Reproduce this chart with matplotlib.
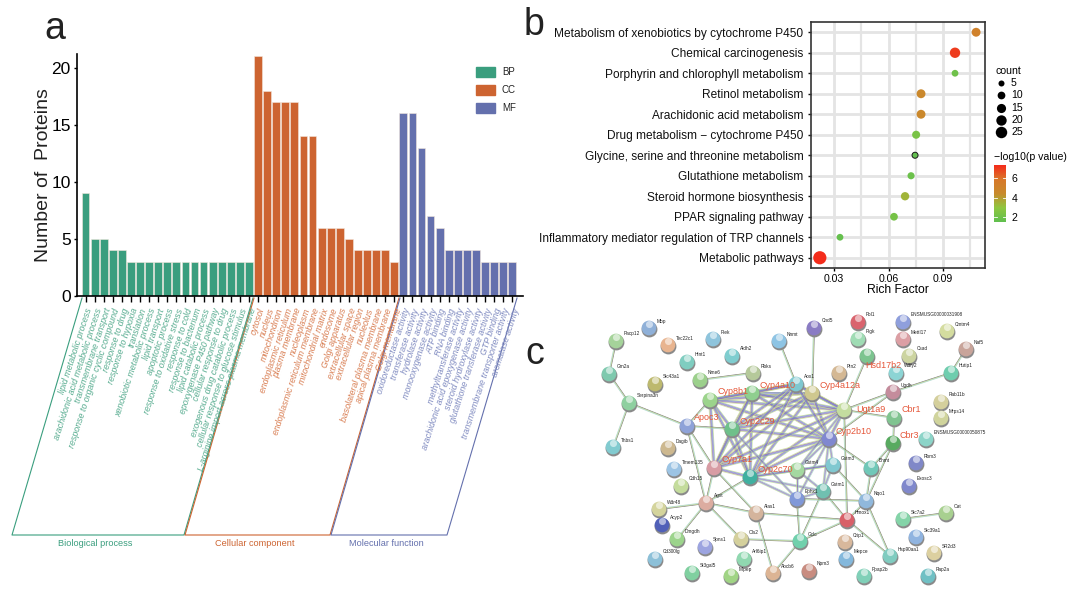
import itertools
import numpy as np
import matplotlib
matplotlib.use("Agg")
import matplotlib.pyplot as plt
from matplotlib.colors import LinearSegmentedColormap
from matplotlib.patches import Rectangle
from matplotlib.transforms import ScaledTranslation

# panel a
bp_terms = ["lipid metabolic process", "arachidonic acid metabolic process", "transmembrane transport",
            "response to organic cyclic compound", "response to drug", "response to hypoxia", "translation",
            "xenobiotic metabolic process", "lipid transport", "apoptotic process",
            "response to oxidative stress", "response to cold", "response to bacterium",
            "lipid catabolic process", "epoxygenase P450 pathway", "cellular response to drug",
            "exogenous drug catabolic process", "cellular response to glucose stimulus",
            "L-arginine import across plasma membrane"]
bp_counts = [9, 5, 5, 4, 4, 3, 3, 3, 3, 3, 3, 3, 3, 3, 3, 3, 3, 3, 3]
cc_terms = ["cytosol", "nucleus", "mitochondrion", "endoplasmic reticulum", "plasma membrane", "nucleoplasm",
            "endoplasmic reticulum membrane", "mitochondrial matrix", "endosome", "Golgi apparatus",
            "extracellular space", "extracellular region", "nucleolus", "basolateral plasma membrane",
            "apical plasma membrane", "Golgi membrane"]
cc_counts = [21, 18, 17, 17, 17, 14, 14, 6, 6, 6, 5, 4, 4, 4, 4, 3]
mf_terms = ["oxidoreductase activity", "transferase activity", "hydrolase activity", "monooxygenase activity",
            "ATP binding", "RNA binding", "methyltransferase activity", "arachidonic acid epoxygenase activity",
            "steroid hydroxylase activity", "glutathione transferase activity", "GTP binding",
            "transmembrane transporter activity", "aromatase activity"]
mf_counts = [16, 16, 13, 7, 6, 4, 4, 4, 4, 3, 3, 3, 3]

# panel b
pathways = ["Metabolism of xenobiotics by cytochrome P450", "Chemical carcinogenesis",
            "Porphyrin and chlorophyll metabolism", "Retinol metabolism", "Arachidonic acid metabolism",
            "Drug metabolism \u2212 cytochrome P450", "Glycine, serine and threonine metabolism",
            "Glutathione metabolism", "Steroid hormone biosynthesis", "PPAR signaling pathway",
            "Inflammatory mediator regulation of TRP channels", "Metabolic pathways"]
rich_factor = [0.1082, 0.0966, 0.0966, 0.0779, 0.0779, 0.0752, 0.0746, 0.0724, 0.0691, 0.0630, 0.0333, 0.0222]
path_count = [14, 20, 7, 14, 14, 11, 5, 8, 12, 10, 7, 34]
log_p = [5.2, 7.0, 2.0, 4.6, 4.6, 2.3, 1.6, 1.9, 3.4, 2.2, 1.7, 7.3]

# panel c, network
node_names = ["Mbp", "Pacp12", "Tec22c1", "Plek", "Hint1", "Aldh2", "Nme6", "Rbks", "Gm2a", "Slc43a1", "Nnmt", "Cnd5",
              "Serpina3n", "Thbs1", "Apoc3", "Cyp8b1", "Cyp4a10", "Aox1", "Cyp4a12a", "Cyp2c29", "Dagib",
              "Fbl1", "Pigk", "ENSMUSG00000031908", "Mettl17", "Cmtm4", "Naf5", "Csad", "Hsd17b2", "Wdfy2", "Ptn2",
              "Hutip1", "Ugdh", "Rab11b", "Mrps14", "Ugt1a9", "Cbr1", "Cbr3", "ENSMUSG00000050875", "Cyp2b10",
              "Cyp7a1", "Cyp2c70", "Tmem135", "Cdh15", "Agxt", "Alas1", "Wdr48", "Acyp2", "Dmgdh", "Spns1", "Ols2",
              "Gclc", "Cd300lg", "St3gal5", "Mipep", "Arl6ip1", "Abcb6", "Npm3", "Gstm4", "Ephx1", "Gstm1", "Gstm3",
              "Bhmt", "Nqo1", "Hmox1", "Rbm3", "Exosc3", "Slc7a2", "Oat", "Slc39a1", "SR2d3", "Hsp90aa1", "Crip1",
              "Mepce", "Ppap2b", "Rap2a"]
node_x = [649, 616, 668, 713, 687, 732, 700, 753, 609, 655, 779, 814,
          629, 613, 687, 710, 752, 796, 812, 732, 668,
          858, 858, 903, 903, 947, 966, 909, 867, 896, 839,
          951, 893, 941, 941, 844, 894, 893, 926, 829,
          714, 750, 674, 681, 706, 756, 659, 662, 677, 705, 741,
          800, 655, 692, 731, 744, 773, 809, 797, 797, 823, 833,
          871, 866, 847, 916, 909, 903, 946, 916, 934, 890, 845,
          846, 864, 928]
node_y = [328, 341, 345, 339, 362, 356, 380, 373, 374, 384, 341, 328,
          403, 447, 426, 400, 393, 384, 393, 429, 448,
          322, 339, 322, 339, 331, 349, 356, 356, 373, 373,
          373, 392, 402, 418, 410, 418, 443, 439, 439,
          468, 477, 469, 486, 503, 513, 509, 525, 539, 547, 539,
          541, 559, 573, 576, 559, 573, 571, 470, 499, 491, 465,
          468, 501, 520, 463, 486, 519, 513, 537, 553, 556, 542,
          559, 576, 576]
node_colors = ["#8fb0d8", "#a5d39a", "#e8b48f", "#8ec4dc", "#7fcdc0", "#7fcdcf", "#9cd08c", "#b5c99a", "#7fc9ae",
               "#bdb96e", "#8ec4e4", "#8a7cc4", "#8fd0a0", "#82cbd0", "#8ea2d8", "#9cd48c", "#8fcf8f", "#7fc8d0",
               "#cfc88f", "#6fc08a", "#cdb88f", "#d9646e", "#9fdcb4", "#8f9fdc", "#dc9fa4", "#d4dc9f", "#c8a49a",
               "#ccd4a0", "#7cc48f", "#8cd4d4", "#d4b894", "#6fcdae", "#c48c9c", "#d4cf9c", "#d0d49c", "#c4dc9f",
               "#80c490", "#58aa60", "#8cd4c8", "#8088d0", "#d89ca4", "#40b0a0", "#9cc4e4", "#c4dc9c", "#dcaca0",
               "#d4b49c", "#d4d49c", "#5060b8", "#9cd48c", "#9ca4e0", "#d4d09c", "#70d0ac", "#8cc0d8", "#80d0a0",
               "#a0d484", "#90d8b0", "#dcb494", "#c88c80", "#a4d8a0", "#8098d8", "#70c0b0", "#80c8d0", "#70c8b8",
               "#90b8dc", "#d86068", "#8088c8", "#8088cc", "#84d4a8", "#a8d090", "#90b4e0", "#dcd0a0", "#80ccc0",
               "#d8b89c", "#84b8dc", "#80d0b8", "#70c0c4"]
red_labels = ["Apoc3", "Cyp8b1", "Cyp4a10", "Cyp4a12a", "Cyp2c29", "Hsd17b2", "Ugt1a9", "Cbr1", "Cbr3", "Cyp2b10",
              "Cyp7a1", "Cyp2c70"]
dense_group = ["Cyp8b1", "Cyp4a10", "Cyp4a12a", "Cyp2c29", "Ugt1a9", "Cyp2b10", "Cyp7a1", "Cyp2c70", "Aox1"]
gst_edges = [("Gstm4", "Cyp2b10"), ("Gstm4", "Cyp2c70"), ("Gstm4", "Ugt1a9"), ("Gstm3", "Cyp2b10"),
             ("Gstm3", "Cyp2c70"), ("Gstm1", "Cyp2b10"), ("Gstm1", "Cyp2c70"), ("Ephx1", "Cyp2c70"),
             ("Ephx1", "Cyp2b10"), ("Ephx1", "Gstm1"), ("Ephx1", "Gstm4"), ("Gstm1", "Gstm4"),
             ("Gstm1", "Gstm3"), ("Gstm3", "Gstm4"), ("Ephx1", "Cyp2c29")]
thin_edges = [("Pacp12", "Gm2a"), ("Gm2a", "Serpina3n"), ("Serpina3n", "Thbs1"), ("Serpina3n", "Apoc3"),
              ("Nme6", "Rbks"), ("Nnmt", "Aox1"), ("Cnd5", "Cyp4a12a"), ("Hsd17b2", "Ugt1a9"), ("Ugt1a9", "Ugdh"),
              ("Ugdh", "Hutip1"), ("Hutip1", "Naf5"), ("Ugt1a9", "Cbr1"), ("Cbr1", "Cbr3"), ("Cbr3", "Nqo1"),
              ("Cbr3", "Bhmt"), ("Bhmt", "Nqo1"), ("Nqo1", "Hmox1"), ("Nqo1", "Hsp90aa1"), ("Hmox1", "Hsp90aa1"),
              ("Hmox1", "Gclc"), ("Gclc", "Ols2"), ("Gclc", "Abcb6"), ("Gclc", "Ephx1"), ("Gclc", "Gstm1"),
              ("Agxt", "Wdr48"), ("Agxt", "Dmgdh"), ("Agxt", "Ols2"), ("Agxt", "Alas1"), ("Agxt", "Cyp7a1"),
              ("Agxt", "Apoc3"), ("Agxt", "Cyp2c70"), ("Alas1", "Abcb6"), ("Alas1", "Hmox1"), ("Alas1", "Cyp7a1"),
              ("Slc7a2", "Oat"), ("Apoc3", "Cyp7a1"), ("Ugdh", "Cyp2b10"), ("Apoc3", "Cyp8b1"), ("Apoc3", "Cyp2c29"),
              ("Ugt1a9", "Hmox1"), ("Gstm1", "Hmox1"), ("Gstm3", "Nqo1"), ("Cyp2b10", "Bhmt"), ("Ephx1", "Nqo1")]

GREEN, ORANGE, BLUE = "#3a9e7e", "#cd6431", "#6470ad"
LABEL_GREEN, LABEL_ORANGE, LABEL_BLUE = "#55ab8e", "#d87c50", "#7f8ac0"
plt.rcParams["font.family"] = ["Liberation Sans", "DejaVu Sans"]

W, H = 1080, 596
fig = plt.figure(figsize=(W / 100, H / 100), dpi=100)


def axes_px(left, top, right, bottom):
    return fig.add_axes([left / W, 1 - bottom / H, (right - left) / W, (bottom - top) / H])


# whole figure in pixels, for the frames, panel letters and the network
bg = fig.add_axes([0, 0, 1, 1])
bg.set_xlim(0, W)
bg.set_ylim(H, 0)
bg.axis("off")

# ---- panel a
ax = axes_px(77, 54, 523, 296)
ax.patch.set_alpha(0)
terms = bp_terms + cc_terms + mf_terms
counts = bp_counts + cc_counts + mf_counts
colors = [GREEN] * len(bp_terms) + [ORANGE] * len(cc_terms) + [BLUE] * len(mf_terms)
label_colors = [LABEL_GREEN] * len(bp_terms) + [LABEL_ORANGE] * len(cc_terms) + [LABEL_BLUE] * len(mf_terms)
x = np.arange(len(terms))
ax.bar(x, counts, width=0.86, color=colors, edgecolor="#f2e6dc", linewidth=0.4)
ax.set_xlim(-0.94, 48.18)
ax.set_ylim(0, 21.2)
ax.set_yticks([0, 5, 10, 15, 20])
ax.tick_params(axis="y", labelsize=12.5, width=1, length=2.5, pad=2)
ax.set_xticks(x)
ax.set_xticklabels(terms, rotation=72, ha="right", va="top", rotation_mode="anchor", fontsize=6.4, style="italic")
shift = ScaledTranslation(-2 / 100, 0, fig.dpi_scale_trans)
for t, c in zip(ax.get_xticklabels(), label_colors):
    t.set_color(c)
    t.set_transform(t.get_transform() + shift)
ax.tick_params(axis="x", width=1, length=4, pad=4)
ax.spines["top"].set_visible(False)
ax.spines["right"].set_visible(False)
ax.spines["left"].set_linewidth(1.2)
ax.spines["bottom"].set_linewidth(1.2)
ax.set_ylabel("Number of  Proteins", fontsize=14, color="#222222")
ax.yaxis.set_label_coords(-0.055, 0.5)

for lab, c, yy in zip(["BP", "CC", "MF"], [GREEN, ORANGE, BLUE], [72, 90, 108]):
    bg.add_patch(Rectangle((476, yy - 5), 19, 10, color=c))
    bg.text(502, yy, lab, fontsize=7, va="center", color="#222222")

frames = [([82, 12, 184, 253], GREEN, "Biological process", 95),
          ([254, 185, 330, 399], ORANGE, "Cellular component", 255),
          ([400, 331, 447, 517], BLUE, "Molecular function", 386)]
for xs, c, name, xc in frames:
    bg.plot(xs, [298, 535, 535, 298], color=c, lw=0.8)
    bg.text(xc, 543, name, color=c, fontsize=6.6, ha="center", va="center")

# ---- panel b
ax2 = axes_px(811, 22, 985, 268)
ypos = np.arange(len(pathways))[::-1]
cmap = LinearSegmentedColormap.from_list("rich", ["#5fbf4f", "#8fc63f", "#c88a2c", "#d8782a", "#f52a1a"])
ax2.set_axisbelow(True)
ax2.grid(True, which="major", color="#e4e4e4", lw=2)
ax2.set_xticks([0.045, 0.075, 0.105], minor=True)
ax2.grid(True, which="minor", axis="x", color="#e4e4e4", lw=1.6)
ax2.tick_params(axis="x", which="minor", length=0)
sizes = [6.4 + 2.47 * c for c in path_count]
sc = ax2.scatter(rich_factor, ypos, s=sizes, c=log_p, cmap=cmap, vmin=1.5, vmax=7.35, zorder=3, linewidths=0)
ax2.scatter([rich_factor[6]], [ypos[6]], s=sizes[6], facecolors="none", edgecolors="#1a1a1a", linewidths=0.7, zorder=4)
ax2.set_xlim(0.01734, 0.1131)
ax2.set_ylim(-0.5, 11.5)
ax2.set_xticks([0.03, 0.06, 0.09])
ax2.set_xticklabels(["0.03", "0.06", "0.09"])
ax2.set_yticks(ypos)
ax2.set_yticklabels(pathways)
ax2.tick_params(axis="y", labelsize=8.6, length=2.5, width=1, pad=3, colors="#111111")
ax2.tick_params(axis="x", which="major", labelsize=7.6, length=2.5, width=1, pad=2)
for s in ax2.spines.values():
    s.set_linewidth(1.2)
    s.set_color("#333333")
ax2.set_xlabel("Rich Factor", fontsize=8.7, labelpad=0)

bg.text(995, 71, "count", fontsize=7.6, va="center")
for cnt, yy in zip([5, 10, 15, 20, 25], [83, 95, 108, 120, 132]):
    bg.scatter([1001], [yy], s=6.4 + 2.47 * cnt, color="black", linewidths=0)
    bg.text(1011, yy, str(cnt), fontsize=7.6, va="center")
bg.text(994, 157, "\u2212log10(p value)", fontsize=7.6, va="center")
cax = axes_px(994, 165, 1006, 222)
cb = fig.colorbar(sc, cax=cax)
cb.set_ticks([2, 4, 6])
cb.outline.set_visible(False)
cax.tick_params(labelsize=7.6, length=0, pad=4)
for v in [2, 4, 6]:
    cax.plot([0, 0.22], [v, v], color="white", lw=0.6, transform=cax.get_yaxis_transform())
    cax.plot([0.78, 1], [v, v], color="white", lw=0.6, transform=cax.get_yaxis_transform())

# ---- panel c
pos = {n: (px, py) for n, px, py in zip(node_names, node_x, node_y)}


def edge(a, b, cols, gap=0.8, lw=0.6):
    (x0, y0), (x1, y1) = pos[a], pos[b]
    d = np.hypot(x1 - x0, y1 - y0)
    nx, ny = -(y1 - y0) / d, (x1 - x0) / d
    for i, c in enumerate(cols):
        off = (i - (len(cols) - 1) / 2) * gap
        bg.plot([x0 + nx * off, x1 + nx * off], [y0 + ny * off, y1 + ny * off], color=c, lw=lw, alpha=0.8,
                solid_capstyle="butt", zorder=2)


for a, b in itertools.combinations(dense_group, 2):
    edge(a, b, ["#bcdc8c", "#7a80cc", "#7a80cc", "#8e6aa8", "#c8dc90"], gap=0.7, lw=0.55)
for a, b in gst_edges:
    edge(a, b, ["#bcdc8c", "#7a80cc", "#8e6aa8", "#9ccfc4"], gap=0.7, lw=0.5)
for a, b in thin_edges:
    edge(a, b, ["#5a5a5a", "#b9d47a", "#9ccfc4"], gap=0.6, lw=0.5)

bg.scatter(node_x, np.array(node_y) + 0.7, s=130, color="#8a8a8a", linewidths=0, zorder=3)
bg.scatter(node_x, node_y, s=112, c=node_colors, linewidths=0, zorder=4)
bg.scatter(node_x, np.array(node_y) - 3.6, s=26, color="white", alpha=0.55, linewidths=0, zorder=5)
for n, px, py in zip(node_names, node_x, node_y):
    if n == "Ugt1a9":
        bg.text(px + 12, py - 1, n, fontsize=6.5, color="#e5573a", zorder=6, va="center")
    elif n == "Hsd17b2":
        bg.text(px - 2, py + 10, n, fontsize=6.5, color="#e5573a", zorder=6, va="center")
    elif n in red_labels:
        bg.text(px + 7, py - 8, n, fontsize=6.5, color="#e5573a", zorder=6, va="center")
    else:
        bg.text(px + 8, py - 7, n, fontsize=3.4, color="#222222", zorder=6, va="center")

bg.text(44, 29, "a", fontsize=27, va="center", color="#222222")
bg.text(524, 25, "b", fontsize=27, va="center", color="#222222")
bg.text(525, 354, "c", fontsize=27, va="center", color="#222222")

fig.savefig("out.png", dpi=100)
plt.close()
